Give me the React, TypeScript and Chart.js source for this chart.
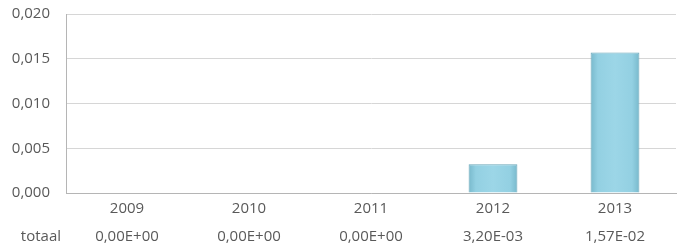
import React, { useEffect, useRef } from "react";
import { Chart, registerables } from "chart.js";

Chart.register(...registerables);

const years = ["2009", "2010", "2011", "2012", "2013"];
const totaal = [0, 0, 0, 0.0032, 0.0157];
const rowLabel = "totaal";
const yTicks = [0, 0.005, 0.01, 0.015, 0.02];

const FONT = "'Open Sans', 'Liberation Sans', sans-serif";
const TEXT = "#595959";

function sci(v: number): string {
  const [m, e] = v.toExponential(2).split("e");
  const exp = parseInt(e, 10);
  const sign = exp < 0 ? "-" : "+";
  const abs = Math.abs(exp).toString().padStart(2, "0");
  return m.replace(".", ",") + "E" + sign + abs;
}

const LINE_H = 28;
const FONT_SIZE = 15;

const rowLabelPlugin = {
  id: "rowLabel",
  afterDraw(chart: any) {
    const xs = chart.scales.x;
    const ctx = chart.ctx;
    ctx.save();
    ctx.font = `${FONT_SIZE}px ${FONT}`;
    ctx.fillStyle = TEXT;
    ctx.textAlign = "right";
    ctx.textBaseline = "middle";
    const y = xs.top + xs.options.ticks.padding + LINE_H * 1.5;
    ctx.fillText(rowLabel, chart.chartArea.left - 5, y);
    ctx.restore();
  },
};

const barGradientPlugin = {
  id: "barGradient",
  beforeDatasetsDraw(chart: any) {
    const ctx = chart.ctx;
    chart.getDatasetMeta(0).data.forEach((el: any) => {
      const half = el.width / 2;
      const g = ctx.createLinearGradient(el.x - half, 0, el.x + half, 0);
      g.addColorStop(0, "#78B9CC");
      g.addColorStop(0.15, "#93D0E2");
      g.addColorStop(0.5, "#9CD6E7");
      g.addColorStop(0.85, "#93D0E2");
      g.addColorStop(1, "#78B9CC");
      el.options = { ...el.options, backgroundColor: g };
    });
  },
};

export default function App() {
  const ref = useRef<HTMLCanvasElement | null>(null);
  useEffect(() => {
    if (!ref.current) return;
    const chart = new Chart(ref.current, {
      type: "bar",
      data: {
        labels: years,
        datasets: [
          {
            label: rowLabel,
            data: totaal,
            backgroundColor: () => "#93D0E2",
            borderColor: "#6AA6B9",
            borderWidth: 1,
            categoryPercentage: 1,
            barPercentage: 0.4,
          },
        ],
      },
      options: {
        animation: false,
        responsive: true,
        maintainAspectRatio: false,
        layout: { padding: { top: 7, right: 4, left: 0, bottom: 0 } },
        plugins: { legend: { display: false }, tooltip: { enabled: false } },
        scales: {
          x: {
            grid: { display: false, drawTicks: false },
            border: { display: true, color: "#B5B5B5", width: 1 },
            ticks: {
              color: TEXT,
              font: { family: FONT, size: FONT_SIZE, lineHeight: LINE_H / FONT_SIZE },
              padding: 2,
              maxRotation: 0,
              autoSkip: false,
              callback: (_v: any, i: number) => [years[i], sci(totaal[i])],
            },
          },
          y: {
            min: 0,
            max: 0.02,
            afterBuildTicks: (axis: any) => {
              axis.ticks = yTicks.map((v) => ({ value: v }));
            },
            grid: { color: "#D6D6D6", drawTicks: false },
            border: { display: true, color: "#B5B5B5", width: 1 },
            afterFit: (axis: any) => {
              axis.width = 66;
            },
            ticks: {
              color: TEXT,
              font: { family: FONT, size: FONT_SIZE },
              padding: 16,
              callback: (v: any) => Number(v).toFixed(3).replace(".", ","),
            },
          },
        },
      },
      plugins: [barGradientPlugin, rowLabelPlugin],
    });
    return () => chart.destroy();
  }, []);
  return (
    <div style={{ position: "absolute", left: 0, top: 0, width: 680, height: 244, overflow: "hidden", background: "#fff" }}>
      <div style={{ position: "absolute", left: 0, top: -11, width: 680, height: 264 }}>
        <canvas ref={ref} />
      </div>
    </div>
  );
}
